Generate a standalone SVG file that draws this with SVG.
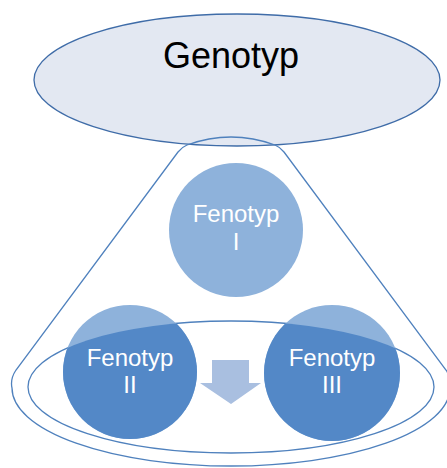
<svg xmlns="http://www.w3.org/2000/svg" width="447" height="468" viewBox="0 0 447 468">
<style>
.line{fill:none;stroke:#4F81BD;stroke-width:1.3}
.light{fill:#8EB2DB}
.dark{fill:#5388C7}
.ft{font-family:"Liberation Sans",Arial,sans-serif;font-size:24px;fill:#FFFFFF;text-anchor:middle}
</style>
<defs>
<clipPath id="inner"><ellipse cx="231" cy="387" rx="203" ry="66"/></clipPath>
</defs>
<rect width="447" height="468" fill="#FFFFFF"/>
<g id="genotyp">
<ellipse cx="237" cy="80" rx="203" ry="66" fill="#E3E8F2" stroke="#3F6CA8" stroke-width="1.3"/>
<text x="231" y="68" font-family="'Liberation Sans',Arial,sans-serif" font-size="36" fill="#000000" text-anchor="middle">Genotyp</text>
</g>
<g id="connectors">
<path class="line" d="M187 145 Q231 129 275 145 Q280 147 284 152 L446 370 Q452 379 450 388 A219 78 0 0 1 12 388 Q10 379 16 370 L178 152 Q182 147 187 145 Z"/>
<ellipse class="line" cx="231" cy="387" rx="203" ry="66"/>
<path id="arrow" d="M212 360 H249 V383 H261 L231 404 L200 383 H212 Z" fill="#A9BFE0"/>
</g>
<g id="fenotyp1">
<circle class="light" cx="236" cy="230" r="67"/>
<text class="ft" x="236" y="222">Fenotyp</text>
<text class="ft" x="236" y="250">I</text>
</g>
<g id="fenotyp2">
<circle class="light" cx="130" cy="372" r="67"/>
<circle class="dark" cx="130" cy="372" r="67" clip-path="url(#inner)"/>
<text class="ft" x="130" y="366">Fenotyp</text>
<text class="ft" x="130" y="393">II</text>
</g>
<g id="fenotyp3">
<circle class="light" cx="332" cy="373" r="68"/>
<circle class="dark" cx="332" cy="373" r="68" clip-path="url(#inner)"/>
<text class="ft" x="332" y="366">Fenotyp</text>
<text class="ft" x="332" y="393">III</text>
</g>
</svg>
